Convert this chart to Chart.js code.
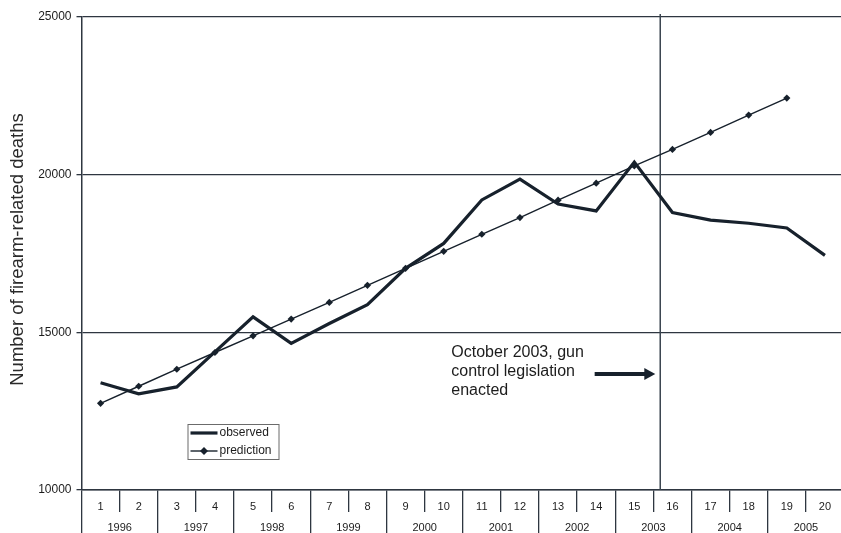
<!DOCTYPE html>
<html>
<head>
<meta charset="utf-8">
<script src="https://cdn.jsdelivr.net/npm/chart.js@4.4.1/dist/chart.umd.min.js"></script>
<style>
  html, body { margin: 0; padding: 0; background: #fff; overflow: hidden; }
  #wrap { width: 848px; height: 533px; }
</style>
</head>
<body>
<div id="wrap"><canvas id="myChart" width="848" height="533"></canvas></div>
<script>
const periods = ["1", "2", "3", "4", "5", "6", "7", "8", "9", "10",
  "11", "12", "13", "14", "15", "16", "17", "18", "19", "20"];
const years = ["1996", "1997", "1998", "1999", "2000", "2001", "2002", "2003", "2004", "2005"];
const observed = [13400, 13050, 13270, 14380, 15490, 14650, 15280, 15880, 17030, 17820,
  19200, 19860, 19070, 18850, 20400, 18800, 18560, 18460, 18310, 17440];
const prediction = [12750, 13290, 13830, 14360, 14890, 15420, 15950, 16490, 17030, 17570,
  18110, 18640, 19190, 19730, 20280, 20800, 21340, 21890, 22430, null];
const yTicks = [10000, 15000, 20000, 25000];
const yTitle = "Number of firearm-related deaths";
const lawIndex = 14.68; // October 2003, between period 15 and 16
const noteLines = ["October 2003, gun", "control legislation", "enacted"];

const ink = "#17212c";
const gridInk = "#2e3640";
const font = "'Liberation Sans', Arial, sans-serif";

// vertical marker, arrow and note
const notePlugin = {
  id: "note",
  beforeDatasetsDraw(chart) {
    const { ctx, chartArea, scales } = chart;
    const x = scales.x.getPixelForValue(lawIndex);
    ctx.save();
    ctx.strokeStyle = "#3a444f";
    ctx.lineWidth = 1.5;
    ctx.beginPath();
    ctx.moveTo(x, chartArea.top - 3);
    ctx.lineTo(x, chartArea.bottom);
    ctx.stroke();

    // text
    ctx.fillStyle = "#1c1c1c";
    ctx.font = "16px " + font;
    ctx.textBaseline = "alphabetic";
    const tx = scales.x.getPixelForValue(9.2);
    const ty = scales.y.getPixelForValue(14220);
    noteLines.forEach((line, i) => ctx.fillText(line, tx, ty + i * 19));

    // arrow
    const ax1 = scales.x.getPixelForValue(12.96);
    const ax2 = scales.x.getPixelForValue(14.55);
    const ay = scales.y.getPixelForValue(13680);
    ctx.strokeStyle = ink;
    ctx.lineWidth = 4;
    ctx.beginPath();
    ctx.moveTo(ax1, ay);
    ctx.lineTo(ax2 - 8, ay);
    ctx.stroke();
    ctx.fillStyle = ink;
    ctx.beginPath();
    ctx.moveTo(ax2, ay);
    ctx.lineTo(ax2 - 11, ay - 6);
    ctx.lineTo(ax2 - 11, ay + 6);
    ctx.closePath();
    ctx.fill();
    ctx.restore();
  },
};

// y title drawn by hand so it can sit a little above the centre
const yTitlePlugin = {
  id: "yTitle",
  afterDraw(chart) {
    const { ctx, chartArea } = chart;
    ctx.save();
    ctx.translate(chartArea.left - 64, (chartArea.top + chartArea.bottom) / 2 - 4);
    ctx.rotate(-Math.PI / 2);
    ctx.fillStyle = "#2a2a2a";
    ctx.font = "18.5px " + font;
    ctx.textAlign = "center";
    ctx.textBaseline = "middle";
    ctx.fillText(yTitle, 0, 0);
    ctx.restore();
  },
};

// boxed legend in the lower left of the plot
const boxLegend = {
  id: "boxLegend",
  afterDraw(chart) {
    const { ctx, chartArea } = chart;
    const left = chartArea.left + 106;
    const top = chartArea.bottom - 66;
    ctx.save();
    ctx.fillStyle = "#fff";
    ctx.fillRect(left, top, 91, 35);
    ctx.strokeStyle = "#6b6b6b";
    ctx.lineWidth = 1;
    ctx.strokeRect(left + 0.5, top + 0.5, 91, 35);
    ctx.font = "12px " + font;
    ctx.textBaseline = "middle";
    chart.data.datasets.forEach((ds, i) => {
      const y = top + 9 + i * 18;
      ctx.strokeStyle = ds.borderColor;
      ctx.lineWidth = ds.borderWidth;
      ctx.beginPath();
      ctx.moveTo(left + 3, y);
      ctx.lineTo(left + 30, y);
      ctx.stroke();
      if (ds.pointRadius) {
        ctx.fillStyle = ds.borderColor;
        ctx.beginPath();
        ctx.moveTo(left + 16.5, y - 4);
        ctx.lineTo(left + 20.5, y);
        ctx.lineTo(left + 16.5, y + 4);
        ctx.lineTo(left + 12.5, y);
        ctx.closePath();
        ctx.fill();
      }
      ctx.fillStyle = "#1c1c1c";
      ctx.fillText(ds.label, left + 32, y);
    });
    ctx.restore();
  },
};

const ctx = document.getElementById("myChart").getContext("2d");
new Chart(ctx, {
  type: "line",
  data: {
    labels: periods,
    datasets: [
      {
        label: "observed",
        data: observed,
        borderColor: ink,
        borderWidth: 3.2,
        pointRadius: 0,
        tension: 0,
        xAxisID: "x",
      },
      {
        label: "prediction",
        data: prediction,
        borderColor: ink,
        backgroundColor: ink,
        borderWidth: 1.4,
        pointStyle: "rectRot",
        pointRadius: 3.6,
        pointBorderWidth: 0,
        tension: 0,
        xAxisID: "x",
      },
    ],
  },
  options: {
    responsive: false,
    animation: false,
    layout: { padding: { top: 17, left: 0, right: 0, bottom: 0 } },
    plugins: {
      legend: { display: false },
      tooltip: { enabled: false },
    },
    scales: {
      y: {
        min: 10000,
        max: 25000,
        afterBuildTicks: (scale) => {
          scale.ticks = yTicks.map((v) => ({ value: v }));
        },
        afterFit: (scale) => {
          scale.width = 81.5;
        },
        grid: { color: gridInk, lineWidth: 1.3, tickLength: 5 },
        border: { color: gridInk, width: 1.5 },
        ticks: {
          color: "#1c1c1c",
          font: { family: font, size: 12 },
          padding: 5,
          callback: (v) => String(v),
        },
      },
      x: {
        type: "category",
        weight: 0,
        offset: true,
        afterFit: (scale) => {
          scale.height = 22;
        },
        grid: { offset: true, drawOnChartArea: false, tickLength: 22, color: gridInk, lineWidth: 1.3 },
        border: { color: gridInk, width: 1.5 },
        ticks: { color: "#1c1c1c", font: { family: font, size: 11 }, padding: -12, maxRotation: 0, autoSkip: false },
      },
      years: {
        type: "category",
        position: "bottom",
        weight: 1,
        labels: years,
        offset: true,
        afterFit: (scale) => {
          scale.height = 21;
        },
        grid: { offset: true, drawOnChartArea: false, tickLength: 21, color: gridInk, lineWidth: 1.3 },
        border: { display: false },
        ticks: { color: "#1c1c1c", font: { family: font, size: 11 }, padding: -12, maxRotation: 0, autoSkip: false },
      },
    },
  },
  plugins: [notePlugin, yTitlePlugin, boxLegend],
});
</script>
</body>
</html>
